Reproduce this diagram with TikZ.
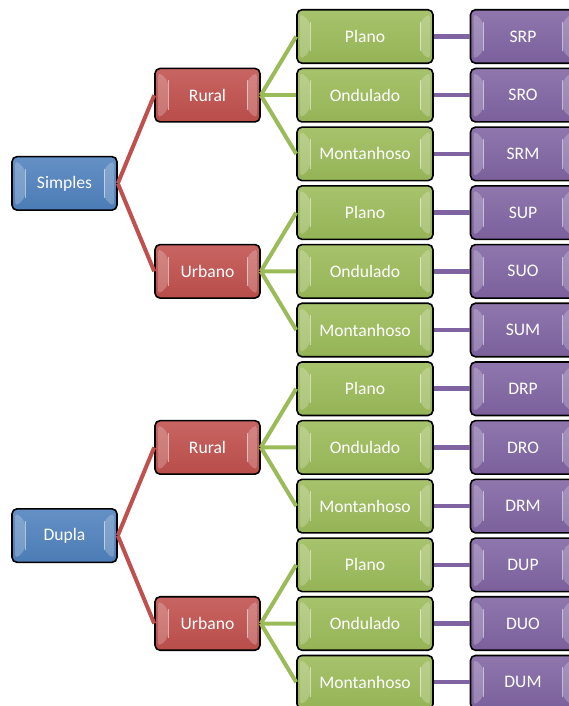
\documentclass[tikz,border=0pt]{standalone}
\usepackage{fontspec}
\setmainfont{Carlito}
\usetikzlibrary{calc}
\definecolor{cblue}{HTML}{4F81BD}
\definecolor{cred}{HTML}{C0504D}
\definecolor{cgreen}{HTML}{9BBB59}
\definecolor{cpurple}{HTML}{8064A2}
\tikzset{
  box/.style={draw=black, line width=1.6pt, rounded corners=5pt,
    minimum height=53.5pt, text=white, font=\fontsize{17.6}{20}\selectfont,
    top color=#1!88!white, bottom color=#1!96!black, inner sep=0pt,
    path picture={
      \fill[white,opacity=0.22]
        ($(path picture bounding box.north west)+(3,3)$) -- ++(10,9)
        -- ($(path picture bounding box.south west)+(13,-12)$) -- ++(-10,9) -- cycle;
      \fill[white,opacity=0.22]
        ($(path picture bounding box.north east)+(-3,3)$) -- ++(-10,9)
        -- ($(path picture bounding box.south east)+(-13,-12)$) -- ++(10,9) -- cycle;
      \draw[white,opacity=0.5,line width=1pt]
        ($(path picture bounding box.north west)+(13,12)$) -- ($(path picture bounding box.south west)+(13,-12)$);
      \draw[white,opacity=0.5,line width=1pt]
        ($(path picture bounding box.north east)+(-13,12)$) -- ($(path picture bounding box.south east)+(-13,-12)$);
    }},
  bluebox/.style={box=cblue, minimum width=105pt},
  redbox/.style={box=cred, minimum width=105pt},
  greenbox/.style={box=cgreen, minimum width=136pt},
  purplebox/.style={box=cpurple, minimum width=105pt},
  redline/.style={draw=cred, line width=4pt},
  greenline/.style={draw=cgreen, line width=4pt},
  purpleline/.style={draw=cpurple, line width=4.5pt},
}
\begin{document}
\begin{tikzpicture}[x=1pt,y=-1pt]
\useasboundingbox (0,0) rectangle (569,706);
\clip (0,0) rectangle (569,706);
% level 1
\node[bluebox] (s) at (64.5,183.4) {Simples};
\node[bluebox] (d) at (64.5,535.6) {Dupla};
% level 2
\node[redbox] (sr) at (207.5,95.2) {Rural};
\node[redbox] (su) at (207.5,271.3) {Urbano};
\node[redbox] (dr) at (207.5,447.4) {Rural};
\node[redbox] (du) at (207.5,623.5) {Urbano};
% level 3 and 4
\foreach \i/\t/\c in {1/Plano/SRP,2/Ondulado/SRO,3/Montanhoso/SRM,
                      4/Plano/SUP,5/Ondulado/SUO,6/Montanhoso/SUM,
                      7/Plano/DRP,8/Ondulado/DRO,9/Montanhoso/DRM,
                      10/Plano/DUP,11/Ondulado/DUO,12/Montanhoso/DUM}{
  \node[greenbox] (g\i) at (365,{36.5+58.7*(\i-1)}) {\t};
  \node[purplebox] (p\i) at (523,{36.5+58.7*(\i-1)}) {\c};
  \draw[purpleline] (g\i.east) -- (p\i.west);
}
% connectors
\draw[redline] (s.east) -- (sr.west);
\draw[redline] (s.east) -- (su.west);
\draw[redline] (d.east) -- (dr.west);
\draw[redline] (d.east) -- (du.west);
\foreach \a/\x/\y/\z in {sr/1/2/3, su/4/5/6, dr/7/8/9, du/10/11/12}{
  \draw[greenline] (\a.east) -- (g\x.west);
  \draw[greenline] (\a.east) -- (g\y.west);
  \draw[greenline] (\a.east) -- (g\z.west);
}
\end{tikzpicture}
\end{document}
